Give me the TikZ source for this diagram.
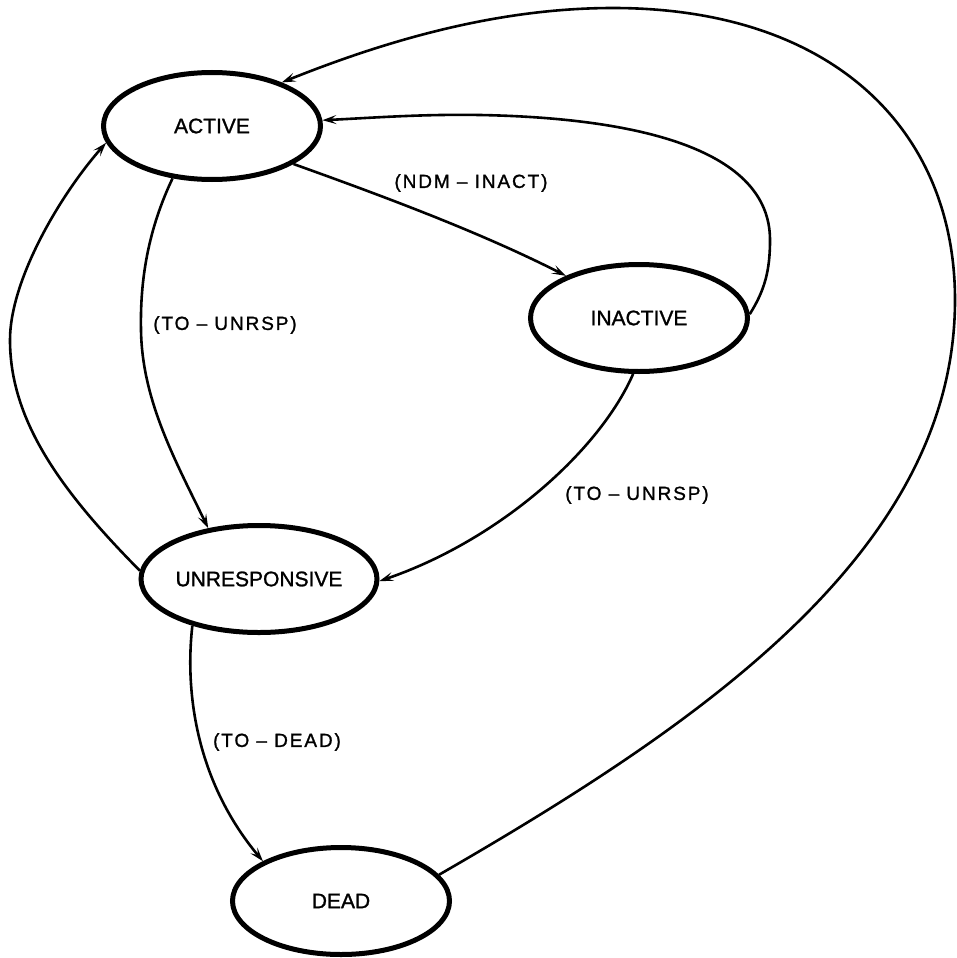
\documentclass[tikz,border=0pt]{standalone}
\usepackage{fontspec}
\setmainfont{Liberation Sans}[FakeBold=1.2]
\usetikzlibrary{shapes.geometric,arrows.meta}
\begin{document}
\begin{tikzpicture}[x=1pt,y=-1pt,
  state/.style={ellipse,draw,line width=5pt,minimum width=217pt,minimum height=107pt,inner sep=0pt,font=\fontsize{21}{25}\selectfont\addfontfeature{FakeBold=1.2}},
  trans/.style={line width=2.6pt,-{Stealth[length=14pt,width=9pt,inset=6pt]}},
  lbl/.style={inner sep=0pt,font=\fontsize{19}{23}\selectfont\addfontfeature{LetterSpace=10,FakeBold=1.2}},
]
\useasboundingbox[fill=white] (0,0) rectangle (957,958);
\node[state] (active) at (212,126) {ACTIVE};
\node[state] (inactive) at (639,318) {INACTIVE};
\node[state] (unresp) at (259,579) {UNRESPONSIVE};
\node[state] (dead) at (341,901) {DEAD};

\draw[trans] (dead.15.5) .. controls (702,723) and (955,550) .. (955,300)
  .. controls (955,130) and (833,8) .. (613,8)
  .. controls (493,8) and (380,43) .. (active.32.9);
\draw[trans] (inactive.2.6) .. controls (765,290) and (770,270) .. (770,240)
  .. controls (770,150) and (640,118) .. (480,115)
  .. controls (420,114) and (370,118) .. (active.3);
\draw[trans] (active.-25.7) .. controls (380,195) and (480,232) .. (inactive.150.3);
\draw[trans] (active.-127.6) .. controls (148,230) and (140,280) .. (141,330)
  .. controls (142,400) and (175,460) .. (unresp.135.6);
\draw[trans] (unresp.176.4) .. controls (60,490) and (10,420) .. (10,340)
  .. controls (10,280) and (60,195) .. (active.-171.5);
\draw[trans] (inactive.-96) .. controls (600,450) and (500,540) .. (unresp.-1.5);
\draw[trans] (unresp.-145) .. controls (185,690) and (195,780) .. (dead.153.7);

\node[lbl] (l1) at (471,183) {(NDM – INACT)};
\node[lbl] (l2) at (225,325) {(TO – UNRSP)};
\node[lbl] (l3) at (637,495) {(TO – UNRSP)};
\node[lbl] (l4) at (277,742) {(TO – DEAD)};
\end{tikzpicture}
\end{document}
